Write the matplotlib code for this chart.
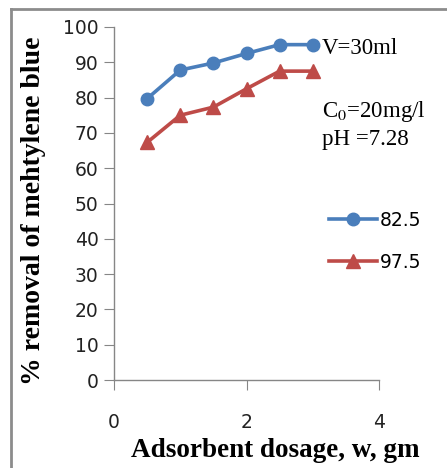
import matplotlib
matplotlib.use("Agg")
import matplotlib.pyplot as plt
from matplotlib.lines import Line2D

dosage = [0.5, 1.0, 1.5, 2.0, 2.5, 3.0]
removal_825 = [79.7, 87.8, 89.8, 92.5, 95.0, 95.0]
removal_975 = [67.3, 75.0, 77.3, 82.5, 87.5, 87.5]
series_labels = ["82.5", "97.5"]
xticks = [0, 2, 4]
yticks = [0, 10, 20, 30, 40, 50, 60, 70, 80, 90, 100]

fig = plt.figure(figsize=(4.47, 4.68), dpi=100)
ax = fig.add_axes([114/447, 1-380/468, (379-114)/447, (380-27)/468])

blue = "#4a7ebb"
red = "#be4b48"
ax.plot(dosage, removal_825, color=blue, lw=2.6, marker="o", ms=9, label=series_labels[0])
ax.plot(dosage, removal_975, color=red, lw=2.6, marker="^", ms=10, label=series_labels[1])

ax.set_xlim(0, 4)
ax.set_ylim(0, 100)
ax.set_xticks(xticks)
ax.set_yticks(yticks)
for s in ["top", "right"]:
    ax.spines[s].set_visible(False)
for s in ["left", "bottom"]:
    ax.spines[s].set_color("#868686")
    ax.spines[s].set_linewidth(1.0)
ax.tick_params(axis="both", direction="out", length=7, color="#868686", labelsize=13.5)
ax.tick_params(axis="x", pad=17)
ax.tick_params(axis="y", pad=4)
for lab in ax.get_xticklabels() + ax.get_yticklabels():
    lab.set_family("DejaVu Sans")
    lab.set_color("#222222")

ax.set_ylabel("% removal of mehtylene blue", family="Liberation Serif", fontweight="bold",
              fontsize=20)
ax.set_xlabel("Adsorbent dosage, w, gm", family="Liberation Serif", fontweight="bold",
              fontsize=19.5)
ax.yaxis.set_label_coords(-0.255, 0.48)
ax.xaxis.set_label_coords(0.61, -0.163)

fig.text(322/447, 1-48/468, "V=30ml", family="Liberation Serif", fontsize=16.5, va="center")
fig.text(322/447, 1-112/468, "C$_0$=20mg/l", family="Liberation Serif", fontsize=16.5, va="center",
         math_fontfamily="stix")
fig.text(322/447, 1-140/468, "pH =7.28", family="Liberation Serif", fontsize=16.5, va="center")

leg = ax.legend(loc="center left", bbox_to_anchor=(0.81, 0.393), frameon=False,
                prop={"family": "DejaVu Sans", "size": 13.5}, handlelength=2.6,
                handletextpad=0.15, labelspacing=1.2, borderaxespad=0, borderpad=0)
leg.set_clip_on(False)

# gray frame on left and top
fig.add_artist(Line2D([11/447, 11/447], [0, 1-9/468], transform=fig.transFigure,
                      color="#8c8c8c", lw=2))
fig.add_artist(Line2D([11/447, 1], [1-9/468, 1-9/468], transform=fig.transFigure,
                      color="#8c8c8c", lw=2))

fig.savefig("out.png", dpi=100)
